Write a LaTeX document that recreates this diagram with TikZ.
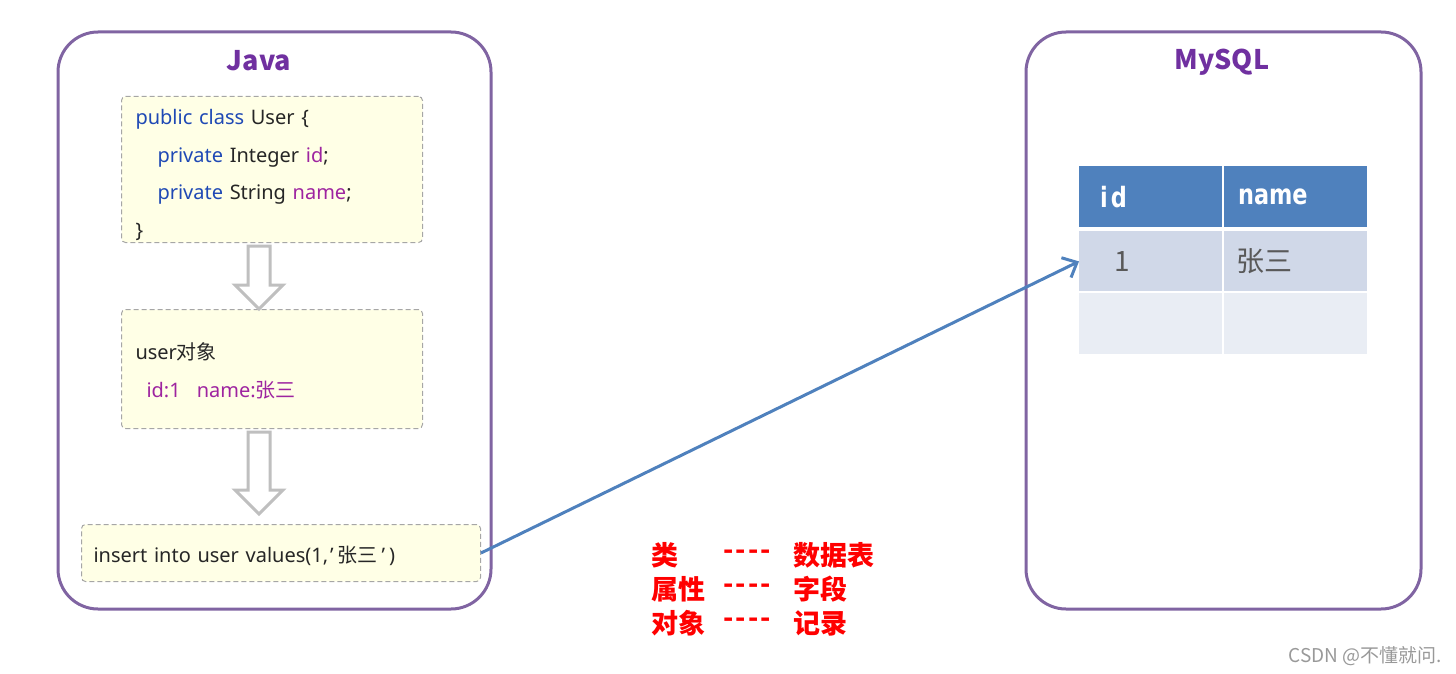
\documentclass[tikz,border=0pt]{standalone}
\usepackage{graphicx}
\usepackage{fontspec}
\setmainfont{Noto Sans}
\newfontfamily\cjk{Noto Sans CJK SC}
\newfontfamily\headfont{DejaVu Sans}
\usetikzlibrary{positioning,arrows.meta,calc}
\definecolor{panelline}{RGB}{128,100,162}
\definecolor{titlepurple}{RGB}{112,48,160}
\definecolor{keyblue}{RGB}{31,73,181}
\definecolor{varpurple}{RGB}{158,36,160}
\definecolor{boxfill}{RGB}{255,255,230}
\definecolor{boxline}{RGB}{166,166,166}
\definecolor{arrgray}{RGB}{191,191,191}
\definecolor{linkblue}{RGB}{79,129,189}
\definecolor{headblue}{RGB}{79,129,189}
\definecolor{rowmid}{RGB}{208,216,232}
\definecolor{rowlight}{RGB}{233,237,244}
\definecolor{celltext}{RGB}{89,89,89}
\definecolor{inktext}{RGB}{38,38,38}
\newcommand{\kw}[1]{\textcolor{keyblue}{#1}}
\newcommand{\vr}[1]{\textcolor{varpurple}{#1}}
\newcommand{\zh}[1]{{\cjk #1}}
\newcommand{\dashes}{-\kern1pt-\kern1pt-\kern1pt-}
% hollow down arrow between two stacked boxes, x taken from the Java title
\newcommand{\grayarrow}[3]{%
  \draw[hollow] let \p0=(javaT), \p1=(#1.south), \p2=(#2.north) in
    (\x0-5.5pt,\y1-1.5pt) -- (\x0+5.5pt,\y1-1.5pt) -- (\x0+5.5pt,\y2+#3+12pt)
    -- (\x0+12pt,\y2+#3+12pt) -- (\x0,\y2+#3) -- (\x0-12pt,\y2+#3+12pt)
    -- (\x0-5.5pt,\y2+#3+12pt) -- cycle;}
\tikzset{
  panel/.style={draw=panelline,line width=1.5pt,rounded corners=20pt},
  ptitle/.style={font=\cjk\fontsize{13.5}{16}\selectfont\bfseries,text=titlepurple},
  codebox/.style={draw=boxline,dash pattern=on 2.5pt off 1.5pt,line width=0.5pt,
    fill=boxfill,rounded corners=2pt,anchor=north west,minimum width=150.5pt,
    text width=136.5pt,inner xsep=7pt,inner ysep=0pt,align=left,text=inktext,
    font=\fontsize{10}{18.9}\selectfont},
  hollow/.style={draw=arrgray,line width=1.5pt,fill=white,line join=miter},
  link/.style={draw=linkblue,line width=1.5pt,-{Straight Barb[length=6pt,width=11pt]}},
  tcell/.style={anchor=north west,minimum width=71.5pt,inner sep=0pt},
  headtxt/.style={anchor=west,text=white,font=\headfont\fontsize{14}{16}\selectfont\bfseries},
  celltxt/.style={anchor=west,text=celltext,font=\cjk\fontsize{14}{16}\selectfont},
  redtxt/.style={anchor=west,text=red,font=\cjk\fontsize{13.5}{15}\selectfont\bfseries,inner sep=0pt},
  wmark/.style={text=gray!80,font=\cjk\fontsize{9.5}{11}\selectfont}
}
\begin{document}
\begin{tikzpicture}[x=0.5pt,y=-0.5pt]
  \useasboundingbox (0,0) rectangle (1456,674);
  % --- Java side
  \draw[panel] (58,32) rectangle (491,609);
  \node[ptitle] (javaT) at (259,61) {Java};
  \node[codebox,minimum height=73pt] (cls) at (121,96)
    {\rule{0pt}{13pt}\kw{public class} User \{\\
     \hspace*{11pt}\kw{private} Integer \vr{id};\\
     \hspace*{11pt}\kw{private} String \vr{name};\\
     \}};
  \node[codebox,minimum height=59.5pt] (obj) at (121,309)
    {\rule{0pt}{10pt}user\zh{对象}\\
     \hspace*{5.5pt}\vr{id:1\hspace{8pt}name:\zh{张三}}};
  \node[codebox,minimum height=28.5pt,minimum width=199.5pt,text width=187.5pt,
        inner xsep=6pt] (ins) at (81,524)
    {\rule{0pt}{11pt}insert into user values(1,\kern1pt’\kern2pt\zh{张三}\kern2pt’\kern2pt)};
  \grayarrow{cls}{obj}{0pt}
  \grayarrow{obj}{ins}{5pt}
  % --- MySQL side
  \draw[panel] (1026,32) rectangle (1421,609);
  \node[ptitle] (sqlT) at (1222,62) {MySQL};
  \node[tcell,fill=headblue,minimum height=30.5pt] (hid) at (1079,166) {};
  \node[tcell,fill=headblue,minimum height=30.5pt] (hname) at (1224,166) {};
  \node[tcell,fill=rowmid,minimum height=30pt] (r1id) at (1079,231) {};
  \node[tcell,fill=rowmid,minimum height=30pt] (r1name) at (1224,231) {};
  \node[tcell,fill=rowlight,minimum height=30.5pt] (r2id) at (1079,293) {};
  \node[tcell,fill=rowlight,minimum height=30.5pt] (r2name) at (1224,293) {};
  \node[headtxt] at ($(hid.west)+(14,0)$) {\scalebox{0.8}[1]{i\hspace{2pt}d}};
  \node[headtxt] at ($(hname.west)+(7,0)$) {\scalebox{0.8}[1]{name}};
  \node[celltxt] at ($(r1id.west)+(28,0)$) {1};
  \node[celltxt] at ($(r1name.west)+(5,0)$) {张三};
  % --- mapping
  \draw[link] (ins.east) -- (r1id.west);
  \node[redtxt] (k1) at (651,555) {类};
  \node[redtxt] (k2) at (651,589) {属性};
  \node[redtxt] (k3) at (651,623) {对象};
  \node[redtxt] (d1) at (723,555) {\dashes};
  \node[redtxt] (d2) at (723,589) {\dashes};
  \node[redtxt] (d3) at (723,623) {\dashes};
  \node[redtxt] (v1) at (793,555) {数据表};
  \node[redtxt] (v2) at (793,589) {字段};
  \node[redtxt] (v3) at (793,623) {记录};
  \node[wmark,anchor=east] (wm) at (1449,656) {CSDN @不懂就问.};
\end{tikzpicture}
\end{document}
